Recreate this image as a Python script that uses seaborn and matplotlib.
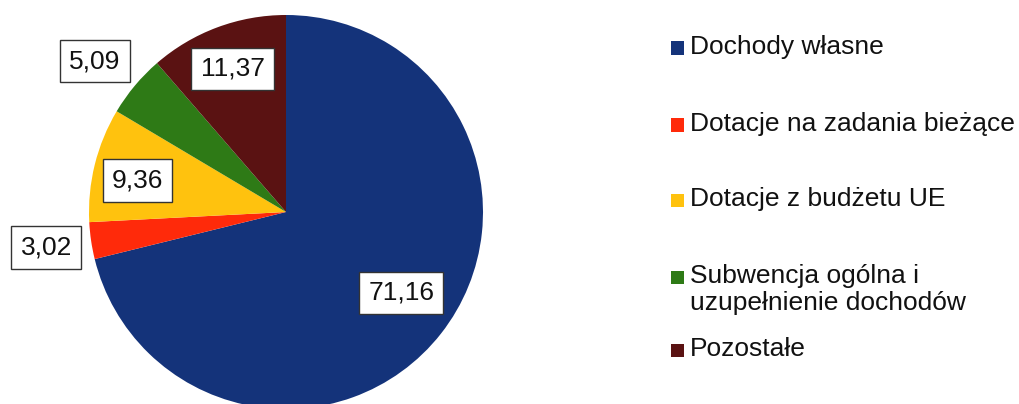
import matplotlib
matplotlib.use("Agg")
import matplotlib.pyplot as plt
import seaborn as sns
import numpy as np

sns.set_theme(style="white")
plt.rcParams['font.family'] = ['Liberation Sans', 'DejaVu Sans']

categories = ["Dochody własne", "Dotacje na zadania bieżące", "Dotacje z budżetu UE",
              "Subwencja ogólna i\nuzupełnienie dochodów", "Pozostałe"]
values = [71.16, 3.02, 9.36, 5.09, 11.37]
value_labels = ["71,16", "3,02", "9,36", "5,09", "11,37"]
colors = ["#14337A", "#FF2A0A", "#FFC20E", "#2E7A16", "#5A1212"]
label_radius = [0.715, 1.23, 0.77, 1.235, 0.775]
label_angle_shift = [3.0, 0.0, 2.0, 1.6, 0.0]

W, H = 1019, 404
fig = plt.figure(figsize=(W / 100, H / 100), dpi=100)
ax = fig.add_axes([0, 0, 1, 1])

cx, cy, r = 286, 212, 197  # pixel geometry of the pie
wedges, _ = ax.pie(values, colors=colors, startangle=90, counterclock=False,
                   radius=1, wedgeprops=dict(linewidth=0))
ax.set_aspect('auto')
ax.set_xlim(-cx / r, (W - cx) / r)
ax.set_ylim(-(H - cy) / r, cy / r)
ax.axis('off')

for w, lab, d, sh in zip(wedges, value_labels, label_radius, label_angle_shift):
    ang = np.deg2rad((w.theta1 + w.theta2) / 2 + sh)
    ax.text(d * np.cos(ang), d * np.sin(ang), lab, ha='center', va='center',
            fontsize=19, color='#111111',
            bbox=dict(boxstyle='square,pad=0.35', facecolor='white',
                      edgecolor='#333333', linewidth=1.0))

# legend (manual, to follow the reference spacing)
legend_y = [48, 125, 200, 277, 350]
sq = 13
for cat, col, y in zip(categories, colors, legend_y):
    fig.patches.append(plt.Rectangle(((677 - sq / 2) / W, 1 - (y + sq / 2) / H), sq / W, sq / H,
                                     transform=fig.transFigure, facecolor=col,
                                     edgecolor='none'))
    fig.text(690 / W, 1 - (y - 13) / H, cat, ha='left', va='top', fontsize=19,
             color='#111111', linespacing=1.15)

fig.savefig("out.png", dpi=100)
